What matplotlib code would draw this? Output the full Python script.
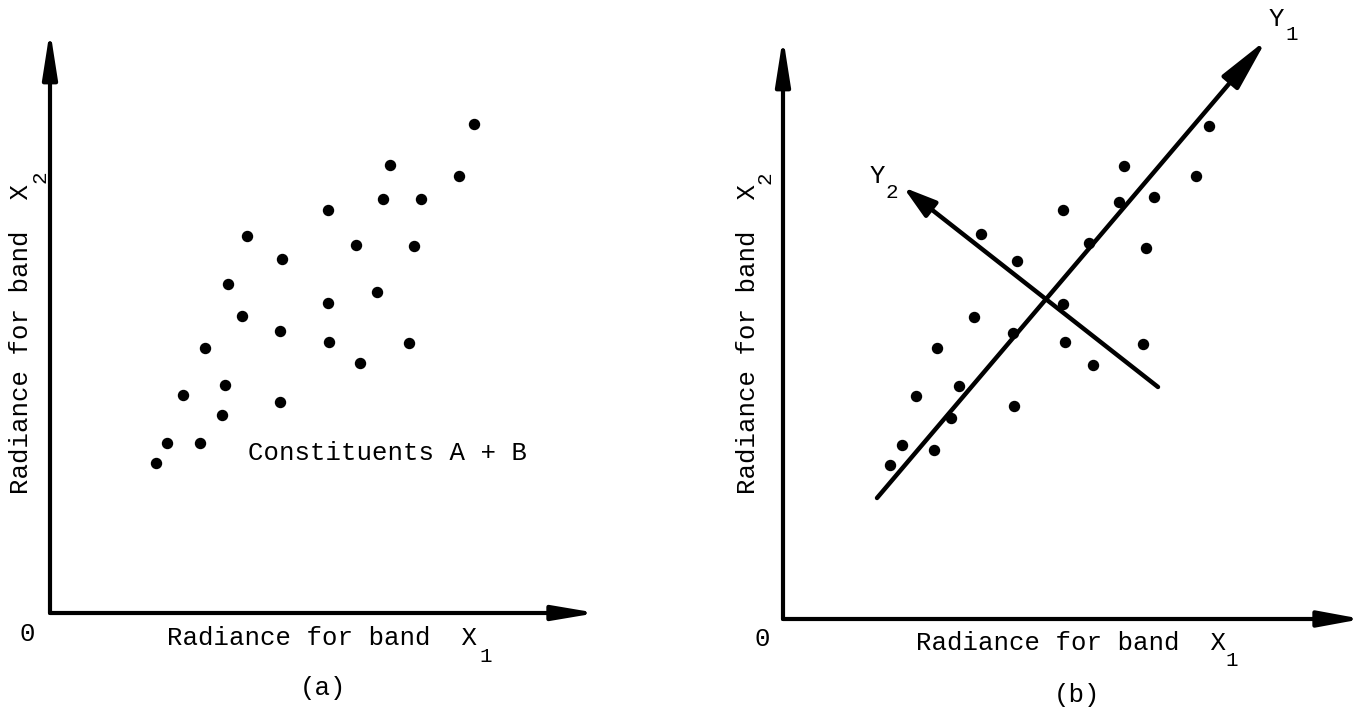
import matplotlib
matplotlib.use("Agg")
import matplotlib.pyplot as plt
import numpy as np

plt.rcParams['font.family'] = ['Liberation Mono', 'DejaVu Sans Mono']

# ---- data (radiance units, origin at axis corner) ----
a_x1 = [42.4, 34.0, 40.9, 33.3, 37.1, 27.8, 19.7, 30.6, 36.4, 23.2, 17.8, 32.7, 27.8,
        19.2, 23.0, 27.9, 35.9, 15.5, 31.0, 17.5, 13.3, 23.0, 17.2, 11.7, 15.0, 10.6]
a_x2 = [48.9, 44.8, 43.7, 41.4, 41.4, 40.3, 37.7, 36.8, 36.7, 35.4, 32.9, 32.1, 31.0,
        29.7, 28.2, 27.1, 27.0, 26.5, 25.0, 22.8, 21.8, 21.1, 19.8, 17.0, 17.0, 15.0]

b_x1 = [42.6, 34.1, 41.3, 37.1, 33.6, 28.0, 36.3, 30.6, 19.8, 23.4, 28.0, 19.1,
        23.0, 28.2, 36.0, 15.4, 31.0, 17.6, 13.3, 23.1, 16.8, 11.9, 15.1, 10.7]
b_x2 = [49.3, 45.3, 44.3, 42.2, 41.7, 40.9, 37.1, 37.6, 38.5, 35.8, 31.5, 30.2,
        28.6, 27.7, 27.5, 27.1, 25.4, 23.3, 22.3, 21.3, 20.1, 17.4, 16.9, 15.4]

y1_start = (9.4, 12.1)
y1_end = (47.9, 57.4)
y2_start = (37.5, 23.2)
y2_end = (12.5, 42.8)

xlabel_text = "Radiance for band  X"
ylabel_text = "Radiance for band  X"
note_text = "Constituents A + B"

W, H = 1355, 711
fig = plt.figure(figsize=(W / 100, H / 100), dpi=100)


def fx(px):
    return px / W


def fy(py):
    return 1 - py / H


def make_axes(ox, oy, right, top):
    ax = fig.add_axes([fx(ox), fy(oy), (right - ox) / W, (oy - top) / H])
    ax.set_xlim(0, (right - ox) / 10)
    ax.set_ylim(0, (oy - top) / 10)
    ax.axis('off')
    return ax


def arrow(ax, start, end, hl, hw, lw=3, ext=9):
    # extend the drawn end a few pixels so the filled tip lands on the end point
    t = ax.transData
    s = np.array(t.transform(start))
    e = np.array(t.transform(end))
    d = (e - s) / np.hypot(*(e - s))
    e2 = t.inverted().transform(e + d * ext)
    ax.annotate("", xy=tuple(e2), xytext=start, annotation_clip=False,
                arrowprops=dict(arrowstyle=f"-|>,head_length={hl},head_width={hw}",
                                color='black', lw=lw, mutation_scale=20,
                                shrinkA=0, shrinkB=0))


FS = 18.5
SUB = 15

# ---- panel (a) ----
axa = make_axes(50, 613, 588, 39)
arrow(axa, (0, 0), (axa.get_xlim()[1], 0), 1.3, 0.22)
arrow(axa, (0, 0), (0, axa.get_ylim()[1]), 1.4, 0.22)
axa.plot(a_x1, a_x2, 'o', color='black', markersize=7.2, clip_on=False)

# ---- panel (b) ----
axb = make_axes(783, 619, 1353, 46)
arrow(axb, (0, 0), (axb.get_xlim()[1], 0), 1.3, 0.24)
arrow(axb, (0, 0), (0, axb.get_ylim()[1]), 1.4, 0.22)
axb.plot(b_x1, b_x2, 'o', color='black', markersize=7.2, clip_on=False)
arrow(axb, y1_start, y1_end, 1.6, 0.32, lw=3.2, ext=7)
arrow(axb, y2_start, y2_end, 1.0, 0.3, lw=3.2, ext=6)

# ---- texts ----
def label_x(left, cy, sub_x, sub_y, sub):
    fig.text(fx(left), fy(cy), xlabel_text, fontsize=FS, ha='left', va='center')
    fig.text(fx(sub_x), fy(sub_y), sub, fontsize=SUB, ha='center', va='center')


def label_y(cx, bottom, sub_x, sub_y, sub):
    fig.text(fx(cx), fy(bottom), ylabel_text, fontsize=FS, ha='center', va='bottom',
             rotation=90)
    fig.text(fx(sub_x), fy(sub_y), sub, fontsize=SUB, ha='center', va='center',
             rotation=90)


label_x(167, 638, 486, 656, "1")
label_y(21, 494, 40, 177, "2")
label_x(916, 643, 1232, 660, "1")
label_y(748, 494, 765, 178, "2")

fig.text(fx(27), fy(634), "0", fontsize=FS, ha='center', va='center')
fig.text(fx(762), fy(639), "0", fontsize=FS, ha='center', va='center')
fig.text(fx(323), fy(688), "(a)", fontsize=FS, ha='center', va='center')
fig.text(fx(1077), fy(695), "(b)", fontsize=FS, ha='center', va='center')
fig.text(fx(248), fy(453), note_text, fontsize=FS, ha='left', va='center')

fig.text(fx(1276), fy(19), "Y", fontsize=FS, ha='center', va='center')
fig.text(fx(1292), fy(35), "1", fontsize=SUB, ha='center', va='center')
fig.text(fx(877), fy(176), "Y", fontsize=FS, ha='center', va='center')
fig.text(fx(892), fy(193), "2", fontsize=SUB, ha='center', va='center')

fig.savefig("out.png", dpi=100, facecolor='white')
